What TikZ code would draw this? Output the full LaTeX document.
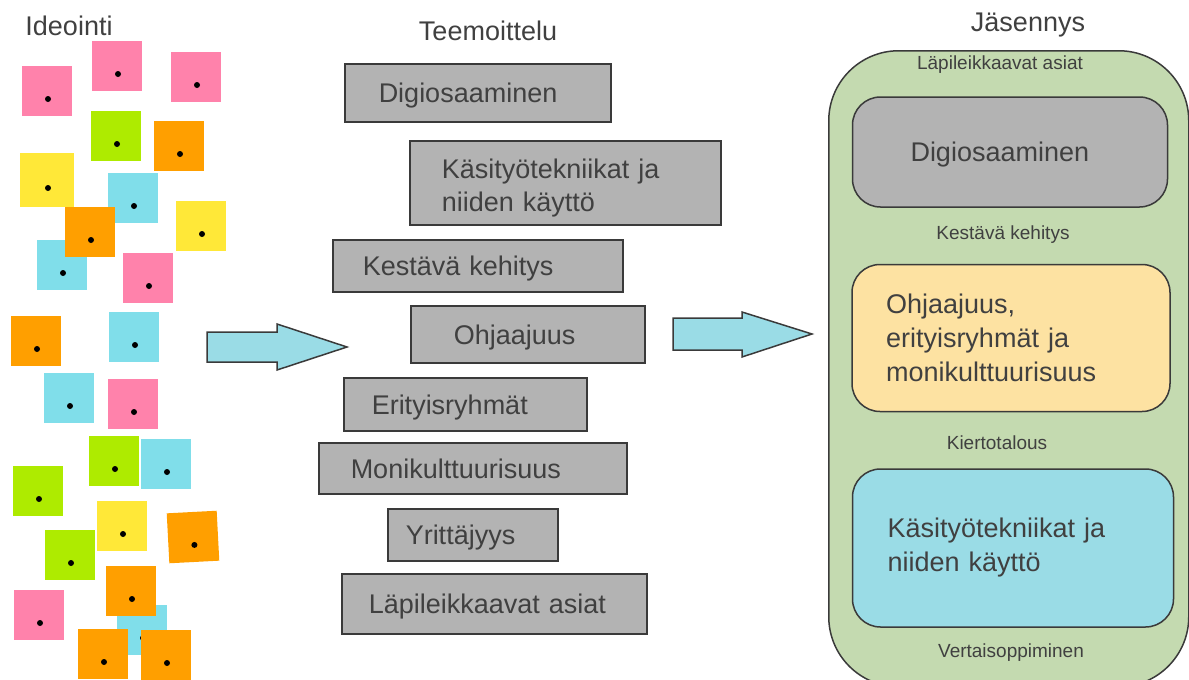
\documentclass[tikz,border=0pt]{standalone}
\usepackage{fontspec}
\setmainfont{Liberation Sans}
\usetikzlibrary{positioning}
\definecolor{notepink}{HTML}{FF82AB}
\definecolor{notegreen}{HTML}{AEEB00}
\definecolor{noteorange}{HTML}{FF9F00}
\definecolor{noteyellow}{HTML}{FFE838}
\definecolor{notecyan}{HTML}{80DEEA}
\definecolor{boxgray}{HTML}{B3B3B3}
\definecolor{edgegray}{HTML}{3A3A3A}
\definecolor{textgray}{HTML}{404040}
\definecolor{arrowcyan}{HTML}{9ADCE6}
\definecolor{panelgreen}{HTML}{C4DAB0}
\definecolor{boxyellow}{HTML}{FDE2A2}

\begin{document}
\begin{tikzpicture}[x=1pt,y=-1pt,
    note/.style={rectangle,minimum size=50pt,inner sep=0pt,fill=#1,
        path picture={\fill[black] ([shift={(1pt,-8pt)}]path picture bounding box.center) circle (3pt);}},
    title/.style={text=textgray,font=\fontsize{27}{33}\selectfont},
    small/.style={text=textgray,font=\fontsize{19}{23}\selectfont},
    theme/.style={rectangle,draw=edgegray,line width=1.5pt,fill=boxgray,anchor=north west,
        text=textgray,font=\fontsize{27}{33}\selectfont,align=left,inner ysep=0pt,text depth=0pt},
    group/.style={rectangle,rounded corners=28pt,draw=edgegray,line width=1.5pt,
        text=textgray,font=\fontsize{27}{34}\selectfont,align=left,inner ysep=0pt},
    bigarrow/.style={draw=edgegray,line width=1.5pt,fill=arrowcyan,line join=miter}]
    \useasboundingbox (0,0) rectangle (1189,680);
    \clip (0,0) rectangle (1189,680);

    % titles
    \node [title] (ideointi) at (69,26) {Ideointi};
    \node [title] (teemoittelu) at (488,31) {Teemoittelu};
    \node [title] (jasennys) at (1028,25) {Jäsennys};

    % sticky notes
    \node [note=notepink] (n1) at (47,91) {};
    \node [note=notepink] (n2) at (117,66) {};
    \node [note=notepink] (n3) at (196,77) {};
    \node [note=notegreen] (n4) at (116,136) {};
    \node [note=noteorange] (n5) at (179,146) {};
    \node [note=noteyellow,minimum size=54pt] (n6) at (47,180) {};
    \node [note=notecyan] (n7) at (133,198) {};
    \node [note=notecyan] (n8) at (62,265) {};
    \node [note=noteorange] (n9) at (90,232) {};
    \node [note=noteyellow] (n10) at (201,226) {};
    \node [note=notepink] (n11) at (148,278) {};
    \node [note=noteorange] (n12) at (36,341) {};
    \node [note=notecyan] (n13) at (134,337) {};
    \node [note=notecyan] (n14) at (69,398) {};
    \node [note=notepink] (n15) at (133,404) {};
    \node [note=notegreen] (n16) at (114,461) {};
    \node [note=notecyan] (n17) at (166,464) {};
    \node [note=notegreen] (n18) at (38,491) {};
    \node [note=noteyellow] (n19) at (122,526) {};
    \node [note=noteorange,rotate=3] (n20) at (193,537) {};
    \node [note=notegreen] (n21) at (70,555) {};
    \node [note=notepink] (n22) at (39,615) {};
    \node [note=notecyan] (n23) at (142,630) {};
    \node [note=noteorange] (n24) at (131,591) {};
    \node [note=noteorange] (n25) at (103,654) {};
    \node [note=noteorange] (n26) at (166,655) {};

    % block arrows
    \draw [bigarrow] (207,332) -- (277,332) -- (277,324) -- (347,347) -- (277,370) -- (277,362) -- (207,362) -- cycle;
    \draw [bigarrow] (673,318) -- (742,318) -- (742,312) -- (812,334) -- (742,357) -- (742,350) -- (673,350) -- cycle;

    % themes
    \node [theme,minimum width=266pt,minimum height=58pt,text width=198pt,inner xsep=34pt] (digi) at (344,63) {Digiosaaminen};
    \node [theme,minimum width=311pt,minimum height=84pt,text width=247pt,inner xsep=32pt,text depth=29pt] (kasi) at (409,140) {Käsityötekniikat ja\\niiden käyttö};
    \node [theme,minimum width=290pt,minimum height=52pt,text width=230pt,inner xsep=30pt] (kestava) at (332,239) {Kestävä kehitys};
    \node [theme,minimum width=234pt,minimum height=57pt,text width=148pt,inner xsep=43pt] (ohjaajuus) at (410,305) {Ohjaajuus};
    \node [theme,minimum width=243pt,minimum height=53pt,text width=187pt,inner xsep=28pt] (erityis) at (343,377) {Erityisryhmät};
    \node [theme,minimum width=308pt,minimum height=51pt,text width=244pt,inner xsep=32pt] (moni) at (318,442) {Monikulttuurisuus};
    \node [theme,minimum width=170pt,minimum height=52pt,text width=134pt,inner xsep=18pt] (yrittajyys) at (387,508) {Yrittäjyys};
    \node [theme,minimum width=305pt,minimum height=60pt,text width=251pt,inner xsep=27pt] (lapileik) at (341,573) {Läpileikkaavat asiat};

    % structure
    \node [rectangle,rounded corners=70pt,draw=edgegray,line width=1.5pt,fill=panelgreen,
        anchor=north west,minimum width=360pt,minimum height=636pt] (panel) at (828,50) {};
    \node [small] (lpl) at (1000,65) {Läpileikkaavat asiat};
    \node [group,fill=boxgray,minimum width=315pt,minimum height=110pt,text width=199pt,inner xsep=58pt,text depth=0pt] (rdigi) at (1010,152) {Digiosaaminen};
    \node [small] (kk) at (1003,235) {Kestävä kehitys};
    \node [group,fill=boxyellow,minimum width=318pt,minimum height=147pt,text width=250pt,inner xsep=34pt] (rohj) at (1011,338) {Ohjaajuus,\\erityisryhmät ja\\monikulttuurisuus};
    \node [small] (kt) at (997,443) {Kiertotalous};
    \node [group,fill=arrowcyan,minimum width=321pt,minimum height=158pt,text width=251pt,inner xsep=35pt] (rkasi) at (1013,548) {Käsityötekniikat ja\\niiden käyttö};
    \node [small] (vo) at (1011,653) {Vertaisoppiminen};
\end{tikzpicture}
\end{document}
